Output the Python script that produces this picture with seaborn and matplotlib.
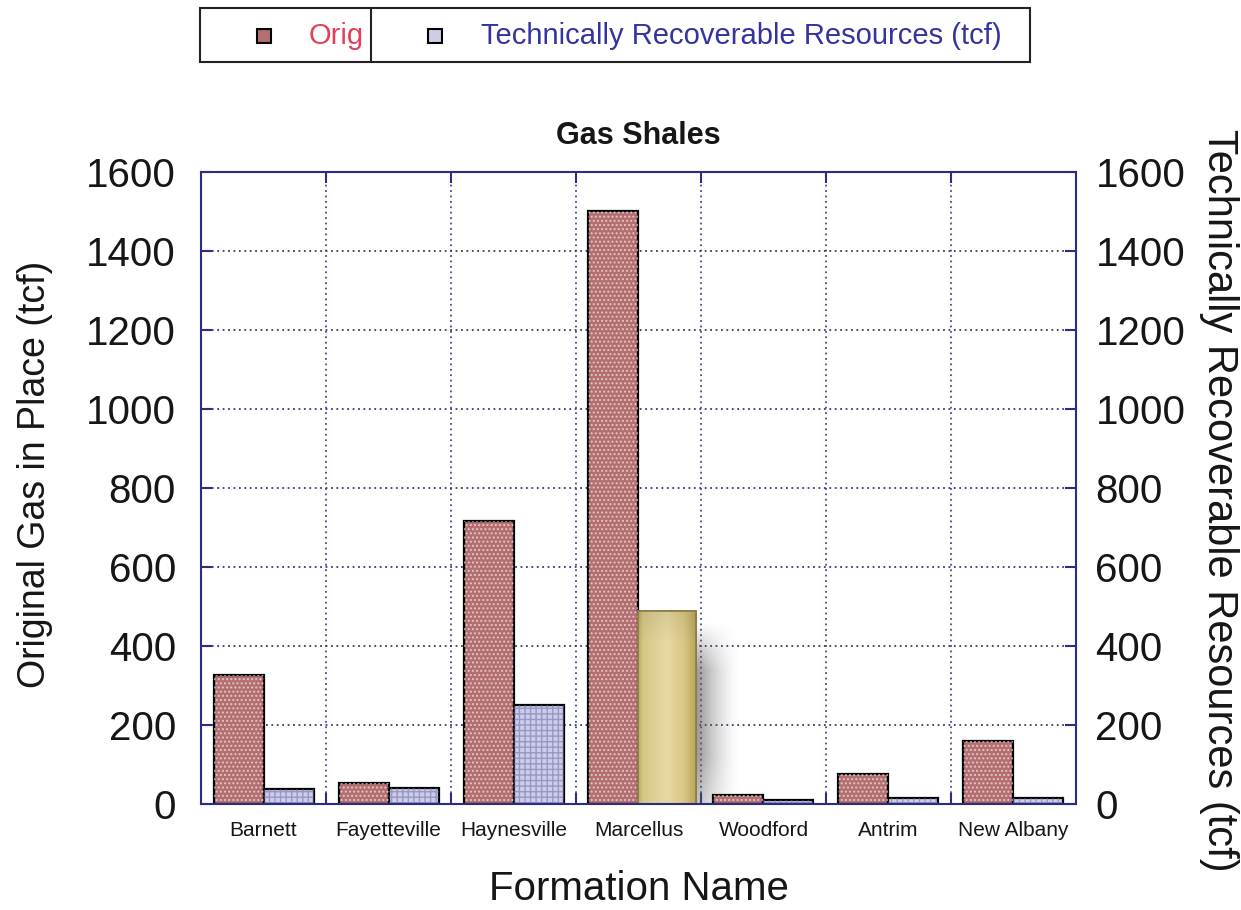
import numpy as np
import pandas as pd
import matplotlib
matplotlib.use("Agg")
import matplotlib.pyplot as plt
from matplotlib.patches import Rectangle
from matplotlib.lines import Line2D
import seaborn as sns

# ---- data -------------------------------------------------------------
formations = ["Barnett", "Fayetteville", "Haynesville", "Marcellus",
              "Woodford", "Antrim", "New Albany"]
ogip_tcf = [327, 52, 717, 1500, 23, 77, 160]          # original gas in place
trr_tcf = [39, 41, 251, 489, 11, 15, 16]               # technically recoverable
series = ["Original Gas in Place (tcf)", "Technically Recoverable Resources (tcf)"]
y_ticks = [0, 200, 400, 600, 800, 1000, 1200, 1400, 1600]
highlight = "Marcellus"

df = pd.DataFrame({
    "Formation": formations * 2,
    "Series": [series[0]] * len(formations) + [series[1]] * len(formations),
    "tcf": ogip_tcf + trr_tcf,
})

# ---- style ------------------------------------------------------------
sns.set_theme(style="white")
plt.rcParams["font.family"] = ["Liberation Sans", "DejaVu Sans"]
plt.rcParams["hatch.linewidth"] = 1.0

navy = "#2c2c84"
red_fill = "#b46e70"
lav_fill = "#cdcde6"
text_col = "#161616"

fig = plt.figure(figsize=(12.41, 9.10), dpi=100)
ax = fig.add_axes([0.162, 0.1165, 0.705, 0.6945])

sns.barplot(data=df, x="Formation", y="tcf", hue="Series",
            order=formations, hue_order=series,
            palette=[red_fill, lav_fill], saturation=1, width=0.8,
            edgecolor="black", linewidth=1.6, legend=False, ax=ax)

n = len(formations)
bars_ogip = ax.patches[:n]
bars_trr = ax.patches[n:2 * n]

# golden highlight on the Marcellus recoverable bar (a touch wider)
hp = bars_trr[formations.index(highlight)]
hp.set_width(hp.get_width() * 1.15)
x0, w, h = hp.get_x(), hp.get_width(), hp.get_height()
hp.set_edgecolor("#8c7c42")
hp.set_linewidth(1.2)

# dotted textures on the bars
for p in bars_ogip:
    ax.add_patch(Rectangle((p.get_x(), p.get_y()), p.get_width(), p.get_height(),
                           facecolor="none", edgecolor=(1, 1, 1, 0.55), lw=0,
                           hatch="....", zorder=p.get_zorder() + 0.1))
for p in bars_trr:
    if p is hp:
        continue
    ax.add_patch(Rectangle((p.get_x(), p.get_y()), p.get_width(), p.get_height(),
                           facecolor="none", edgecolor=(0.45, 0.45, 0.72, 0.6), lw=0,
                           hatch="+++", zorder=p.get_zorder() + 0.1))

stops = np.array([0.0, 0.08, 0.5, 0.8, 1.0])
cols = np.array([[0.72, 0.66, 0.38], [0.84, 0.78, 0.53], [0.91, 0.85, 0.64],
                 [0.85, 0.78, 0.52], [0.72, 0.65, 0.36]])
gx = np.linspace(0, 1, 120)
row = np.stack([np.interp(gx, stops, cols[:, c]) for c in range(3)], axis=-1)
gy = np.linspace(0, 1, 200)[:, None, None]
grad = row[None, :, :] * (0.93 + 0.07 * np.clip(gy * 6, 0, 1))
img = ax.imshow(grad, extent=(x0, x0 + w, 0, h), origin="upper",
                aspect="auto", zorder=hp.get_zorder() + 0.2, interpolation="bilinear")
img.set_clip_path(hp)
ax.add_patch(Rectangle((x0, 0), w, h, facecolor="none", edgecolor="#8c7c42",
                       lw=1.2, zorder=hp.get_zorder() + 0.3))

# soft drop shadow to the right of the highlighted bar
xr = x0 + w
sx = np.linspace(xr - 0.02, xr + 0.36, 120)
sy = np.linspace(0, h, 200)
SX, SY = np.meshgrid(sx, sy)
fade_x = np.clip(1 - (SX - xr - 0.03) / 0.33, 0, 1) ** 1.6
fade_y = np.clip((h - 30 - SY) / 120, 0, 1) * (0.6 + 0.4 * np.clip(SY / 120, 0, 1))
shadow = np.zeros(SX.shape + (4,))
shadow[..., :3] = 0.38
shadow[..., 3] = 0.6 * fade_x * fade_y
ax.imshow(shadow, extent=(sx[0], sx[-1], 0, h), origin="lower", aspect="auto",
          zorder=hp.get_zorder() - 0.05, interpolation="bilinear")

# ---- axes ------------------------------------------------------------
ax.set_xlim(-0.5, n - 0.5)
ax.set_ylim(0, 1600)
ax.set_yticks(y_ticks)
ax.set_xticks(range(n))
ax.set_xticklabels(formations, fontsize=15, color=text_col)
ax.set_xticks(np.arange(0.5, n - 0.5, 1.0), minor=True)
ax.tick_params(axis="x", which="major", length=0, pad=12)
ax.tick_params(axis="x", which="minor", direction="in", top=True, bottom=True,
               length=8, width=1.5, color=navy)
ax.tick_params(axis="y", which="major", direction="in", length=8, width=1.5,
               color=navy, labelsize=29, labelcolor=text_col, pad=18)
ax.set_axisbelow(True)
ax.grid(axis="y", which="major", linestyle=(0, (1, 2)), color="#3b3b6a", lw=1.3)
ax.grid(axis="x", which="minor", linestyle=(0, (1, 2)), color="#4a4a8a", lw=1.3)
for s in ax.spines.values():
    s.set_color(navy)
    s.set_linewidth(1.5)

ax.set_xlabel("Formation Name", fontsize=29, color=text_col, labelpad=22)
ax.set_ylabel(series[0], fontsize=27, color=text_col, va="center")
ax.yaxis.set_label_coords(-0.1895, 0.522)
ax.set_title("Gas Shales", fontsize=22, fontweight="bold", color=text_col, pad=20)

ax2 = ax.twinx()
ax2.set_ylim(ax.get_ylim())
ax2.set_yticks(y_ticks)
ax2.tick_params(axis="y", direction="in", length=8, width=1.5, color=navy,
                labelsize=29, labelcolor=text_col, pad=14)
ax2.set_ylabel(series[1], fontsize=30, color=text_col, rotation=270, va="center")
ax2.yaxis.set_label_coords(1.1635, 0.481)
for s in ax2.spines.values():
    s.set_visible(False)

# ---- legend strip at the top ----------------------------------------
W, H = fig.get_size_inches() * fig.dpi
def fx(px):
    return px / W
def fy(py):
    return 1 - py / H

fig.add_artist(Rectangle((fx(200), fy(62)), fx(1030) - fx(200), fy(8) - fy(62),
                         transform=fig.transFigure, facecolor="white",
                         edgecolor="#222222", lw=1.5))
fig.add_artist(Line2D([fx(371), fx(371)], [fy(62), fy(8)],
                      transform=fig.transFigure, color="#222222", lw=1.5))
for cx, col in [(264, red_fill), (435, lav_fill)]:
    fig.add_artist(Rectangle((fx(cx - 7), fy(43)), fx(14), fy(29) - fy(43),
                             transform=fig.transFigure, facecolor=col,
                             edgecolor="black", lw=1.5))
fig.text(fx(309), fy(36), "Orig", fontsize=21, color="#e0405a", va="center", ha="left")
fig.text(fx(481), fy(36), series[1], fontsize=21, color="#3434a0",
         va="center", ha="left")

fig.savefig("out.png", dpi=100, facecolor="white")
